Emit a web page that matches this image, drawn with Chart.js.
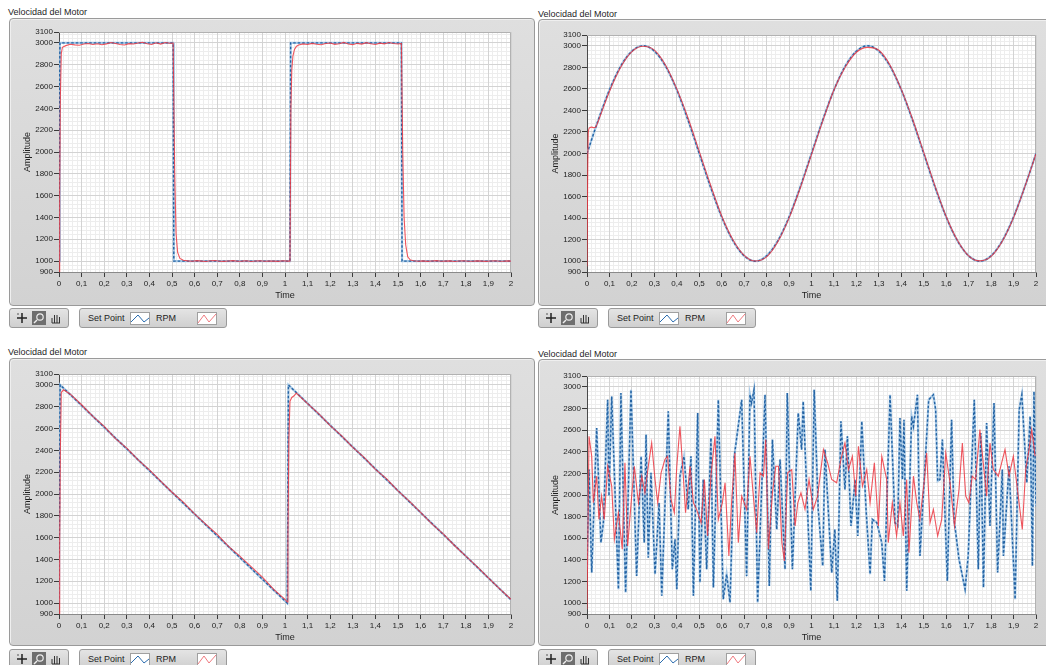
<!DOCTYPE html>
<html>
<head>
<meta charset="utf-8">
<script src="https://cdn.jsdelivr.net/npm/chart.js@4.4.0/dist/chart.umd.min.js"></script>
<style>
  body { margin: 0; width: 1046px; height: 665px; overflow: hidden; background: #fff; position: relative;
         font-family: "Liberation Sans", Arial, sans-serif; color: #1e1e1e; }
  .title { position: absolute; font-size: 9px; white-space: nowrap; }
  .frame { position: absolute; box-sizing: border-box; background: linear-gradient(#dfdfdf, #d2d2d2);
           border: 1px solid #9a9a9a; border-radius: 4px; box-shadow: inset 1px 1px 0 #efefef; }
  .plot { position: absolute; }
  .box { position: absolute; height: 20px; box-sizing: border-box; background: linear-gradient(#e4e4e4, #cfcfcf);
         border: 1px solid #9a9a9a; border-radius: 3px; }
  .lt { position: absolute; top: 4px; font-size: 9px; white-space: nowrap; }
  .ic { position: absolute; top: 3px; }
</style>
</head>
<body>
<script>
// ---- data ----
const xTicks = [0, 0.1, 0.2, 0.3, 0.4, 0.5, 0.6, 0.7, 0.8, 0.9, 1, 1.1, 1.2, 1.3, 1.4, 1.5, 1.6, 1.7, 1.8, 1.9, 2];
const yTicks = [900, 1000, 1200, 1400, 1600, 1800, 2000, 2200, 2400, 2600, 2800, 3000, 3100];

// square wave
const sqSetT = [0, 0.004, 0.505, 0.508, 1.022, 1.025, 1.515, 1.518, 2];
const sqSetV = [1000, 3000, 3000, 1000, 1000, 3000, 3000, 1000, 1000];
const sqRpmT = [0, 0.003, 0.006, 0.01, 0.015, 0.03, 0.05, 0.07, 0.09, 0.11, 0.13, 0.15, 0.17, 0.19, 0.21, 0.23, 0.25,
  0.27, 0.29, 0.31, 0.33, 0.35, 0.37, 0.39, 0.41, 0.43, 0.45, 0.47, 0.49, 0.505,
  0.512, 0.518, 0.525, 0.535, 0.55, 0.57, 0.59, 0.61, 0.63, 0.65, 0.67, 0.69, 0.71, 0.73, 0.75, 0.77, 0.79, 0.81,
  0.83, 0.85, 0.87, 0.89, 0.91, 0.93, 0.95, 0.97, 0.99, 1.01, 1.022,
  1.026, 1.03, 1.035, 1.042, 1.05, 1.06, 1.08, 1.1, 1.12, 1.14, 1.16, 1.18, 1.2, 1.22, 1.24, 1.26, 1.28, 1.3, 1.32,
  1.34, 1.36, 1.38, 1.4, 1.42, 1.44, 1.46, 1.48, 1.5, 1.515,
  1.521, 1.527, 1.534, 1.543, 1.555, 1.57, 1.59, 1.61, 1.63, 1.65, 1.67, 1.69, 1.71, 1.73, 1.75, 1.77, 1.79, 1.81,
  1.83, 1.85, 1.87, 1.89, 1.91, 1.93, 1.95, 1.97, 1.99, 2];
const sqRpmV = [900, 1600, 2500, 2900, 2960, 2975, 2988, 2982, 2979, 2990, 2994, 2986, 2992, 2983, 2991, 3003, 2995,
  2986, 2981, 2993, 2990, 2999, 3006, 2992, 2986, 3001, 2989, 3004, 2997, 2998,
  1800, 1250, 1080, 1025, 1008, 1002, 998, 1004, 1000, 996, 1003, 1005, 999, 997, 1001, 1004, 998, 1000,
  1003, 996, 1001, 1003, 999, 1001, 1000, 997, 1003, 1000, 1000,
  2400, 2750, 2880, 2940, 2968, 2980, 2991, 2985, 2996, 2988, 2983, 2994, 2999, 2987, 2992, 3005, 2990, 2984,
  2996, 2989, 3002, 2993, 2985, 2998, 2991, 3003, 2994, 2990, 2996,
  2000, 1400, 1150, 1040, 1010, 1003, 999, 1002, 997, 1001, 1004, 998, 1000, 1002, 996, 1001, 1003, 999,
  998, 1002, 1000, 997, 1001, 1003, 999, 1000, 1002, 1000];

// sine wave
const sinSetT = [0, 0.05, 0.1, 0.15, 0.2, 0.25, 0.3, 0.35, 0.4, 0.45, 0.5, 0.55, 0.6, 0.65, 0.7, 0.75, 0.8, 0.85, 0.9, 0.95,
  1, 1.05, 1.1, 1.15, 1.2, 1.25, 1.3, 1.35, 1.4, 1.45, 1.5, 1.55, 1.6, 1.65, 1.7, 1.75, 1.8, 1.85, 1.9, 1.95, 2];
const sinSetV = [2000, 2310, 2590, 2810, 2950, 3000, 2950, 2810, 2590, 2310, 2000, 1690, 1410, 1190, 1050, 1000, 1050,
  1190, 1410, 1690, 2000, 2310, 2590, 2810, 2950, 3000, 2950, 2810, 2590, 2310, 2000, 1690, 1410, 1190, 1050, 1000,
  1050, 1190, 1410, 1690, 2000];
const sinRpmT = [0, 0.003, 0.006, 0.012, 0.02, 0.03, 0.04, 0.05, 0.1, 0.15, 0.2, 0.25, 0.3, 0.35, 0.4, 0.45, 0.5, 0.55,
  0.6, 0.65, 0.7, 0.75, 0.8, 0.85, 0.9, 0.95, 1, 1.05, 1.1, 1.15, 1.2, 1.25, 1.3, 1.35, 1.4, 1.45, 1.5, 1.55, 1.6,
  1.65, 1.7, 1.75, 1.8, 1.85, 1.9, 1.95, 2];
const sinRpmV = [950, 1800, 2200, 2240, 2245, 2240, 2250, 2300, 2575, 2800, 2945, 2995, 2960, 2820, 2600, 2330, 2020,
  1710, 1420, 1200, 1055, 1002, 1040, 1180, 1400, 1680, 1990, 2300, 2590, 2800, 2940, 2985, 2958, 2820, 2595, 2320,
  2010, 1700, 1415, 1195, 1050, 1003, 1045, 1185, 1405, 1690, 1995];

// sawtooth
const sawSetT = [0, 0.005, 1.01, 1.015, 2];
const sawSetV = [1000, 3000, 1000, 3000, 1030];
const sawRpmT = [0, 0.003, 0.006, 0.01, 0.02, 0.05, 0.1, 0.15, 0.2, 0.25, 0.3, 0.35, 0.4, 0.45, 0.5, 0.55, 0.6, 0.65,
  0.7, 0.75, 0.8, 0.85, 0.9, 0.95, 1, 1.01, 1.013, 1.017, 1.022, 1.03, 1.04, 1.05, 1.1, 1.15, 1.2, 1.25, 1.3, 1.35,
  1.4, 1.45, 1.5, 1.55, 1.6, 1.65, 1.7, 1.75, 1.8, 1.85, 1.9, 1.95, 2];
const sawRpmV = [900, 1500, 2400, 2930, 2955, 2915, 2818, 2712, 2620, 2508, 2420, 2312, 2222, 2118, 2016, 1925, 1818,
  1722, 1630, 1520, 1430, 1335, 1238, 1125, 1035, 1010, 1600, 2500, 2850, 2885, 2900, 2925, 2828, 2735, 2626, 2535,
  2428, 2335, 2225, 2138, 2028, 1935, 1832, 1726, 1635, 1528, 1430, 1335, 1232, 1130, 1035];

// random set point
const rndSetT = [0, 0.009, 0.021, 0.043, 0.062, 0.073, 0.092, 0.098, 0.11, 0.14, 0.151, 0.172, 0.196, 0.221, 0.241,
  0.255, 0.263, 0.273, 0.285, 0.303, 0.321, 0.333, 0.362, 0.38, 0.392, 0.4, 0.414, 0.432, 0.451, 0.463, 0.474, 0.493,
  0.503, 0.518, 0.533, 0.552, 0.563, 0.585, 0.607, 0.622, 0.637, 0.656, 0.689, 0.711, 0.726, 0.733, 0.744, 0.76,
  0.793, 0.812, 0.826, 0.845, 0.86, 0.882, 0.892, 0.915, 0.941, 0.956, 0.963, 0.978, 0.997, 1.012, 1.03, 1.05, 1.06,
  1.09, 1.104, 1.115, 1.131, 1.149, 1.16, 1.176, 1.194, 1.206, 1.224, 1.243, 1.261, 1.271, 1.291, 1.313, 1.325, 1.35,
  1.372, 1.384, 1.394, 1.405, 1.412, 1.424, 1.446, 1.454, 1.472, 1.483, 1.503, 1.522, 1.543, 1.553, 1.562, 1.572,
  1.583, 1.605, 1.624, 1.635, 1.657, 1.684, 1.698, 1.725, 1.743, 1.754, 1.766, 1.78, 1.795, 1.813, 1.829, 1.85,
  1.855, 1.88, 1.907, 1.925, 1.937, 1.959, 1.974, 1.984, 1.991, 2];
const rndSetV = [1314, 2235, 1283, 2619, 1560, 1744, 2880, 1990, 2911, 1130, 2942, 1099, 2973, 1252, 2358, 1560, 2558,
  1421, 2205, 1268, 1928, 1068, 2773, 1314, 1590, 1130, 2174, 2358, 1867, 2358, 1068, 2758, 1191, 2143, 1314, 2527,
  1145, 2880, 1037, 1268, 1007, 2358, 2880, 1250, 2927, 2850, 2973, 1007, 2927, 1160, 2512, 1682, 2328, 1314, 2942,
  1314, 2757, 2420, 2865, 2082, 1114, 2973, 1867, 1345, 2420, 1283, 1682, 1022, 2681, 2051, 2543, 1713, 2143, 1621,
  2681, 1867, 1268, 1775, 1744, 1560, 1206, 2927, 1744, 1713, 2712, 2143, 2696, 1114, 2727, 2635, 2927, 1437, 2174,
  2880, 2927, 2788, 2128, 2143, 2512, 1206, 2696, 1775, 1406, 1130, 1437, 2880, 1314, 2573, 1145, 2665, 1713, 2850,
  1283, 2235, 1437, 2266, 1037, 2788, 2927, 2113, 2727, 1345, 2957, 1897];
const rndRpmT = [0, 0.009, 0.021, 0.028, 0.043, 0.053, 0.065, 0.077, 0.092, 0.11, 0.122, 0.14, 0.157, 0.169, 0.181,
  0.199, 0.211, 0.229, 0.244, 0.258, 0.273, 0.288, 0.303, 0.315, 0.33, 0.347, 0.359, 0.374, 0.389, 0.4, 0.414, 0.429,
  0.439, 0.459, 0.474, 0.488, 0.508, 0.523, 0.537, 0.552, 0.57, 0.585, 0.603, 0.615, 0.632, 0.644, 0.659, 0.674,
  0.689, 0.711, 0.726, 0.741, 0.756, 0.771, 0.786, 0.796, 0.808, 0.826, 0.841, 0.853, 0.868, 0.879, 0.894, 0.912,
  0.927, 0.939, 0.953, 0.971, 0.989, 1.008, 1.027, 1.053, 1.072, 1.09, 1.112, 1.131, 1.149, 1.165, 1.182, 1.197,
  1.209, 1.227, 1.246, 1.261, 1.28, 1.298, 1.313, 1.335, 1.342, 1.36, 1.379, 1.394, 1.409, 1.424, 1.434, 1.454,
  1.469, 1.483, 1.503, 1.513, 1.528, 1.543, 1.562, 1.58, 1.598, 1.617, 1.637, 1.657, 1.672, 1.687, 1.701, 1.716,
  1.731, 1.75, 1.765, 1.78, 1.795, 1.81, 1.832, 1.847, 1.862, 1.88, 1.899, 1.921, 1.939, 1.954, 1.969, 1.981, 1.996];
const rndRpmV = [945, 2543, 2358, 1928, 2174, 1775, 1990, 1775, 2266, 2082, 1590, 1836, 1498, 2297, 1529, 1990, 2266,
  1928, 2174, 2020, 2266, 2481, 2143, 1928, 2205, 2328, 2358, 1959, 1836, 2266, 2635, 2174, 1836, 2266, 1928, 1867,
  1744, 2143, 1621, 2174, 2543, 1775, 1928, 2113, 1437, 1928, 2389, 1560, 1990, 1867, 2358, 1990, 1652, 2205, 2174,
  2512, 1498, 2020, 2266, 2266, 1560, 1391, 2205, 2235, 1713, 1928, 2020, 1867, 2143, 1867, 1990, 2420, 2297, 2143,
  2113, 2328, 2481, 2235, 2358, 1990, 2450, 2082, 2235, 1928, 2297, 1713, 2358, 2143, 1560, 1928, 1621, 1928, 1621,
  2143, 1467, 2174, 1928, 1775, 2143, 2389, 1744, 1867, 1621, 1775, 2389, 2113, 1713, 2051, 2481, 1990, 1928, 2174,
  2143, 2604, 2297, 1990, 2481, 2235, 2174, 2297, 2420, 2174, 2358, 1990, 1682, 2235, 2420, 2604, 2358];

// ---- layout of the four graphs ----
const panels = [
  { fx: 9, fy: 18, fw: 526, fh: 288, px0: 59, py0: 32, px1: 511, py1: 272, ttx: 19, tx: 8, ty: 7, lx: 9, ly: 308,
    set: [sqSetT, sqSetV], rpm: [sqRpmT, sqRpmV], smooth: false },
  { fx: 538, fy: 19, fw: 526, fh: 287, px0: 587, py0: 35, px1: 1036, py1: 272, ttx: 18, tx: 538, ty: 9, lx: 538, ly: 308,
    set: [sinSetT, sinSetV], rpm: [sinRpmT, sinRpmV], smooth: true },
  { fx: 9, fy: 358, fw: 526, fh: 288, px0: 59, py0: 374, px1: 511, py1: 614, ttx: 19, tx: 8, ty: 347, lx: 9, ly: 649,
    set: [sawSetT, sawSetV], rpm: [sawRpmT, sawRpmV], smooth: false },
  { fx: 538, fy: 359, fw: 526, fh: 287, px0: 587, py0: 376, px1: 1036, py1: 614, ttx: 18, tx: 538, ty: 349, lx: 538, ly: 649,
    set: [rndSetT, rndSetV], rpm: [rndRpmT, rndRpmV], smooth: false },
];

const plotBox = {
  id: 'plotBox',
  beforeDraw(chart) {
    const a = chart.chartArea, c = chart.ctx;
    c.save();
    c.fillStyle = '#fff';
    c.fillRect(a.left, a.top, a.width, a.height);
    c.restore();
  },
  beforeDatasetsDraw(chart) {
    const a = chart.chartArea, c = chart.ctx;
    c.save();
    c.strokeStyle = '#b2b2b2';
    c.lineWidth = 1;
    c.beginPath();
    c.moveTo(a.left, a.top + 0.5);
    c.lineTo(a.right - 0.5, a.top + 0.5);
    c.lineTo(a.right - 0.5, a.bottom);
    c.stroke();
    c.restore();
  }
};

function pts(ts, vs) {
  return ts.map((t, i) => ({ x: t, y: vs[i] }));
}

function el(cls, css, html) {
  const d = document.createElement('div');
  d.className = cls;
  Object.assign(d.style, css);
  if (html) d.innerHTML = html;
  document.body.appendChild(d);
  return d;
}

const tickFont = { family: '"Liberation Sans", Arial, sans-serif', size: 8 };
const titleFont = { family: '"Liberation Sans", Arial, sans-serif', size: 9 };

panels.forEach((p) => {
  el('title', { left: p.tx + 'px', top: p.ty + 'px' }, 'Velocidad del Motor');
  el('frame', { left: p.fx + 'px', top: p.fy + 'px', width: p.fw + 'px', height: p.fh + 'px' });

  // palette and legend under the graph
  el('box', { left: p.lx + 'px', top: p.ly + 'px', width: '60px' },
    '<svg class="ic" style="left:5px;top:2px" width="50" height="14">' +
    '<path d="M7 2v10M2 7h10" stroke="#222" stroke-width="1.5"/><circle cx="3" cy="3" r="0.8" fill="#444"/>' +
    '<rect x="17" y="0" width="14" height="14" fill="#6e6e6e"/>' +
    '<circle cx="25" cy="6" r="3.2" stroke="#eee" fill="none" stroke-width="1.2"/><path d="M22 9l-3 3" stroke="#eee" stroke-width="1.5"/>' +
    '<path d="M37 12v-5M39.5 12v-8M42 12v-8M44.5 12v-6M37 12h8" stroke="#333" stroke-width="1" fill="none"/></svg>');
  el('box', { left: (p.lx + 70) + 'px', top: p.ly + 'px', width: '148px' },
    '<span class="lt" style="left:8px">Set Point</span>' +
    '<svg class="ic" style="left:50px" width="20" height="13"><rect x="0.5" y="0.5" width="19" height="12" fill="#fff" stroke="#a0a0a0"/>' +
    '<polyline points="1,10 8,3 14,10 19,6" fill="none" stroke="#2b6cae" stroke-width="1"/></svg>' +
    '<span class="lt" style="left:76px">RPM</span>' +
    '<svg class="ic" style="left:117px" width="20" height="13"><rect x="0.5" y="0.5" width="19" height="12" fill="#fff" stroke="#a0a0a0"/>' +
    '<polyline points="1,11 7,3 12,10 19,2" fill="none" stroke="#f07a80" stroke-width="1"/></svg>');

  const wrap = el('plot', { left: p.fx + 'px', top: p.fy + 'px' });
  const cv = document.createElement('canvas');
  cv.width = p.fw;
  cv.height = p.fh;
  wrap.appendChild(cv);

  const yW = p.px0 - p.fx;
  const xH = p.fy + p.fh - p.py1;

  new Chart(cv.getContext('2d'), {
    type: 'line',
    data: {
      datasets: [
        { label: 'RPM', data: pts(p.rpm[0], p.rpm[1]), borderColor: 'rgba(236,55,65,0.85)', borderWidth: 1.1,
          pointRadius: 0, order: 0, cubicInterpolationMode: p.smooth ? 'monotone' : 'default' },
        { label: 'Set Point', data: pts(p.set[0], p.set[1]), borderColor: '#2463a3', borderWidth: 1.4,
          borderDash: [2.5, 2], pointRadius: 0, order: 1, cubicInterpolationMode: p.smooth ? 'monotone' : 'default' },
        { label: 'Set Point base', data: pts(p.set[0], p.set[1]), borderColor: 'rgba(160,196,228,0.9)', borderWidth: 2.2,
          pointRadius: 0, order: 2, cubicInterpolationMode: p.smooth ? 'monotone' : 'default' },
      ],
    },
    plugins: [plotBox],
    options: {
      responsive: false,
      animation: false,
      devicePixelRatio: 1,
      layout: { padding: { top: p.py0 - p.fy, right: p.fx + p.fw - p.px1, left: 0, bottom: 0 } },
      plugins: { legend: { display: false }, tooltip: { enabled: false } },
      scales: {
        xm: {
          type: 'linear', position: 'bottom', min: 0, max: 2,
          afterBuildTicks: (s) => {
            const t = [];
            for (let k = 0; k <= 100; k++) t.push({ value: k * 0.02 });
            s.ticks = t;
          },
          ticks: { display: false },
          grid: { color: (c) => (c.index % 5 === 0 ? 'rgba(0,0,0,0)' : '#ededed'), drawTicks: false },
          border: { display: false },
          afterFit: (s) => { s.height = 0; },
        },
        ym: {
          type: 'linear', position: 'left', min: 900, max: 3100,
          afterBuildTicks: (s) => {
            const t = [];
            for (let v = 920; v < 3100; v += 40) t.push({ value: v });
            s.ticks = t;
          },
          ticks: { display: false },
          grid: { color: (c) => ((c.tick.value - 1000) % 200 === 0 ? 'rgba(0,0,0,0)' : '#ededed'), drawTicks: false },
          border: { display: false },
          afterFit: (s) => { s.width = 0; },
        },
        x: {
          type: 'linear', position: 'bottom', min: 0, max: 2,
          afterBuildTicks: (s) => { s.ticks = xTicks.map((v) => ({ value: v })); },
          ticks: { autoSkip: false, maxRotation: 0, padding: 2, font: tickFont, color: '#1e1e1e',
                   callback: (v) => String(v).replace('.', ',') },
          grid: { color: '#d3d3d3', tickColor: '#3a3a3a', tickLength: 5 },
          border: { color: '#8a8a8a' },
          title: { display: true, text: 'Time', font: titleFont, color: '#1e1e1e',
                   padding: { top: 0, bottom: xH - 24 - 5.4 } },
          afterFit: (s) => { s.height = xH; },
        },
        y: {
          type: 'linear', position: 'left', min: 900, max: 3100,
          afterBuildTicks: (s) => { s.ticks = yTicks.map((v) => ({ value: v })); },
          ticks: { autoSkip: false, padding: 1, font: tickFont, color: '#1e1e1e', callback: (v) => String(v) },
          grid: { color: '#d3d3d3', tickColor: '#3a3a3a', tickLength: 5 },
          border: { color: '#4a4a4a' },
          title: { display: true, text: 'Amplitude', font: titleFont, color: '#1e1e1e',
                   padding: { top: p.ttx - 5.4, bottom: 0 } },
          afterFit: (s) => { s.width = yW; },
        },
      },
    },
  });
});
</script>
</body>
</html>
